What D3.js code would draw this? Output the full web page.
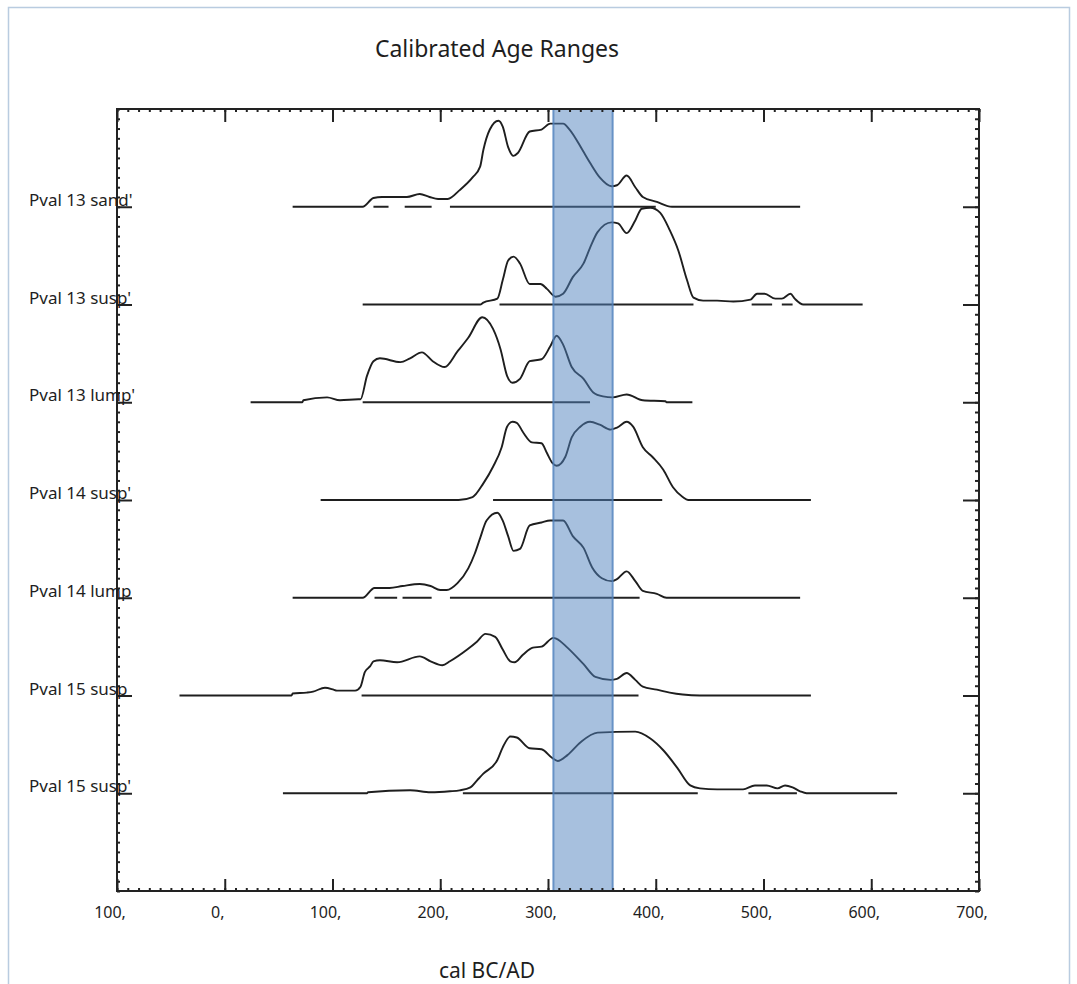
<!DOCTYPE html>
<html>
<head>
<meta charset="utf-8">
<script src="https://cdn.jsdelivr.net/npm/d3@7"></script>
<style>
  html, body { margin: 0; padding: 0; background: #fff; }
  svg { display: block; }
  text { font-family: "Noto Sans", "Open Sans", sans-serif; fill: #1e1e1e; }
</style>
</head>
<body>
<svg id="chart" width="1077" height="984"></svg>
<script>
// Sample names, top row first
const sampleLabels = ["Pval 13 sand'", "Pval 13 susp'", "Pval 13 lump'", "Pval 14 susp'", "Pval 14 lump", "Pval 15 susp", "Pval 15 susp'"];

// Axis ticks (years, negative = BC)
const tickYears = [-100, 0, 100, 200, 300, 400, 500, 600, 700];
const tickLabels = ["100,", "0,", "100,", "200,", "300,", "400,", "500,", "600,", "700,"];

// Highlighted interval (cal AD)
const highlightRange = [305, 360];

// Probability curves: [year, relative probability in row units]
const sand13 = [[63,0],[128,0],[138,0.09],[146,0.10],[169,0.10],[181,0.13],[190,0.10],[198,0.08],[207,0.08],[218,0.17],[230,0.30],[237,0.41],[240,0.58],[246,0.79],[254,0.88],[258,0.82],[263,0.61],[268,0.52],[272,0.55],[283,0.77],[294,0.79],[302,0.85],[314,0.85],[320,0.79],[332,0.58],[339,0.45],[348,0.30],[359,0.21],[364,0.22],[373,0.32],[381,0.20],[388,0.10],[401,0.05],[415,0],[534,0]];
const susp13 = [[128,0],[237,0],[240,0.02],[253,0.06],[258,0.25],[263,0.45],[268,0.49],[274,0.42],[283,0.21],[293,0.21],[299,0.16],[307,0.08],[314,0.11],[323,0.28],[333,0.42],[339,0.58],[346,0.74],[359,0.84],[365,0.83],[373,0.73],[381,0.86],[387,0.98],[395,0.99],[404,0.94],[413,0.76],[421,0.55],[429,0.25],[435,0.07],[444,0.04],[457,0.04],[472,0.03],[488,0.05],[494,0.11],[501,0.11],[511,0.06],[517,0.06],[525,0.11],[529,0.06],[537,0],[592,0]];
const lump13 = [[24,0],[72,0],[73,0.02],[95,0.05],[107,0.02],[124,0.03],[126,0.03],[132,0.27],[138,0.42],[144,0.45],[163,0.41],[172,0.45],[183,0.51],[193,0.42],[204,0.36],[216,0.52],[226,0.66],[239,0.87],[249,0.75],[256,0.54],[262,0.27],[267,0.20],[274,0.24],[283,0.42],[294,0.44],[302,0.57],[308,0.68],[314,0.59],[322,0.36],[333,0.24],[342,0.10],[351,0.06],[360,0.05],[373,0.08],[388,0.02],[409,0.01],[410,0],[434,0]];
const susp14 = [[89,0],[217,0],[230,0.03],[240,0.17],[249,0.34],[257,0.54],[262,0.75],[267,0.80],[271,0.79],[277,0.69],[285,0.59],[294,0.58],[299,0.48],[304,0.38],[308,0.35],[316,0.44],[322,0.64],[330,0.75],[339,0.80],[348,0.77],[358,0.72],[364,0.74],[373,0.80],[379,0.75],[388,0.54],[397,0.44],[407,0.31],[416,0.13],[425,0.03],[430,0],[544,0]];
const lump14 = [[63,0],[128,0],[139,0.10],[153,0.10],[165,0.12],[181,0.14],[191,0.12],[200,0.08],[206,0.08],[216,0.15],[226,0.30],[232,0.45],[237,0.61],[243,0.79],[253,0.87],[258,0.79],[263,0.63],[268,0.48],[274,0.50],[283,0.74],[294,0.77],[302,0.79],[314,0.79],[323,0.63],[333,0.51],[341,0.31],[350,0.20],[359,0.17],[364,0.19],[373,0.27],[381,0.17],[388,0.07],[401,0.04],[410,0],[534,0]];
const susp15 = [[-42,0],[62,0],[63,0.02],[76,0.03],[82,0.04],[93,0.08],[101,0.06],[104,0.05],[121,0.05],[126,0.09],[130,0.24],[135,0.30],[138,0.35],[144,0.36],[160,0.34],[181,0.40],[191,0.35],[202,0.31],[209,0.35],[225,0.47],[234,0.55],[242,0.63],[251,0.60],[258,0.47],[265,0.35],[269,0.34],[277,0.42],[286,0.49],[294,0.50],[305,0.59],[308,0.58],[318,0.49],[333,0.32],[344,0.19],[358,0.16],[364,0.17],[373,0.23],[381,0.16],[388,0.09],[401,0.06],[413,0.03],[425,0.01],[441,0],[544,0]];
const susp15b = [[54,0],[132,0],[133,0.01],[172,0.03],[191,0.01],[209,0.02],[218,0.03],[228,0.06],[234,0.13],[240,0.20],[253,0.34],[258,0.47],[265,0.58],[271,0.57],[283,0.46],[294,0.45],[304,0.36],[309,0.33],[318,0.39],[330,0.52],[346,0.62],[381,0.63],[395,0.56],[407,0.44],[420,0.26],[432,0.08],[441,0.05],[457,0.04],[472,0.04],[481,0.04],[492,0.08],[503,0.08],[513,0.05],[520,0.08],[527,0.06],[534,0.02],[540,0],[624,0]];

// Calibrated range bars: [from, to] in years
const sand13Ranges = [[138,152],[167,192],[209,400]];
const susp13Ranges = [[255,435],[489,508],[517,527]];
const lump13Ranges = [[128,339]];
const susp14Ranges = [[249,406]];
const lump14Ranges = [[139,160],[165,192],[209,385]];
const susp15Ranges = [[127,384]];
const susp15bRanges = [[221,439],[486,531]];

const curves = [sand13, susp13, lump13, susp14, lump14, susp15, susp15b];
const ranges = [sand13Ranges, susp13Ranges, lump13Ranges, susp14Ranges, lump14Ranges, susp15Ranges, susp15bRanges];

const svg = d3.select("#chart");
const W = 1077, H = 984;

// Outer window frame
svg.append("path")
  .attr("d", `M8.5,${H} V7.5 H1069.5 V${H}`)
  .attr("fill", "none")
  .attr("stroke", "#b9cce0")
  .attr("stroke-width", 1.5);

const x = d3.scaleLinear().domain([-100, 700]).range([117, 979]);
const y = d3.scaleLinear().domain([0, 8]).range([891, 109]);
const rowBase = i => sampleLabels.length - i; // top row sits at 7

// Title and axis caption
svg.append("text").attr("x", 497).attr("y", 57).attr("text-anchor", "middle")
  .style("font-size", "23px").text("Calibrated Age Ranges");
svg.append("text").attr("x", 487).attr("y", 978).attr("text-anchor", "middle")
  .style("font-size", "21px").text("cal BC/AD");

const plot = svg.append("g");

// Range bars at each baseline
ranges.forEach((segs, i) => {
  plot.selectAll(null).data(segs).join("line")
    .attr("x1", d => x(d[0])).attr("x2", d => x(d[1]))
    .attr("y1", y(rowBase(i))).attr("y2", y(rowBase(i)))
    .attr("stroke", "#222").attr("stroke-width", 2);
});

// Probability curves
curves.forEach((pts, i) => {
  const line = d3.line().curve(d3.curveMonotoneX)
    .x(d => x(d[0])).y(d => y(rowBase(i) + d[1]));
  plot.append("path").datum(pts).attr("d", line)
    .attr("fill", "none").attr("stroke", "#1e1e1e").attr("stroke-width", 1.9)
    .attr("stroke-linejoin", "round");
});

// Highlight band
svg.append("rect")
  .attr("x", x(highlightRange[0])).attr("width", x(highlightRange[1]) - x(highlightRange[0]))
  .attr("y", y(8)).attr("height", y(0) - y(8))
  .attr("fill", "#4f81bd").attr("fill-opacity", 0.5)
  .attr("stroke", "#4f81bd").attr("stroke-opacity", 0.8).attr("stroke-width", 2);

// Axes with inward ticks
function styleAxis(g) {
  g.select(".domain").remove();
  g.selectAll("line").attr("stroke", "#222").attr("stroke-width", 2);
  g.selectAll("text").remove();
}
const minorYears = d3.range(-100, 701, 10);
const minorRows = d3.range(0, 80.5, 1).map(v => v / 10);
const majorRows = d3.range(1, 8);

svg.append("g").attr("transform", `translate(0,${y(0)})`)
  .call(d3.axisBottom(x).tickValues(minorYears).tickSize(-3)).call(styleAxis);
svg.append("g").attr("transform", `translate(0,${y(0)})`)
  .call(d3.axisBottom(x).tickValues(tickYears).tickSize(-12)).call(styleAxis);
svg.append("g").attr("transform", `translate(0,${y(8)})`)
  .call(d3.axisTop(x).tickValues(minorYears).tickSize(-3)).call(styleAxis);
svg.append("g").attr("transform", `translate(0,${y(8)})`)
  .call(d3.axisTop(x).tickValues(tickYears).tickSize(-13)).call(styleAxis);
svg.append("g").attr("transform", `translate(${x(-100)},0)`)
  .call(d3.axisLeft(y).tickValues(minorRows).tickSize(-3)).call(styleAxis);
svg.append("g").attr("transform", `translate(${x(-100)},0)`)
  .call(d3.axisLeft(y).tickValues(majorRows).tickSize(-15)).call(styleAxis);
svg.append("g").attr("transform", `translate(${x(700)},0)`)
  .call(d3.axisRight(y).tickValues(minorRows).tickSize(-4)).call(styleAxis);
svg.append("g").attr("transform", `translate(${x(700)},0)`)
  .call(d3.axisRight(y).tickValues(majorRows).tickSize(-16)).call(styleAxis);

// Plot frame
svg.append("rect")
  .attr("x", x(-100)).attr("y", y(8))
  .attr("width", x(700) - x(-100)).attr("height", y(0) - y(8))
  .attr("fill", "none").attr("stroke", "#222").attr("stroke-width", 2);

// X tick labels
svg.append("g").selectAll("text").data(tickYears).join("text")
  .attr("x", d => x(d) - 7).attr("y", 918).attr("text-anchor", "middle")
  .style("font-size", "16px")
  .text((d, i) => tickLabels[i]);

// Sample labels
svg.append("g").selectAll("text").data(sampleLabels).join("text")
  .attr("x", 29).attr("y", (d, i) => y(rowBase(i)) - 1)
  .style("font-size", "17px")
  .text(d => d);
</script>
</body>
</html>
